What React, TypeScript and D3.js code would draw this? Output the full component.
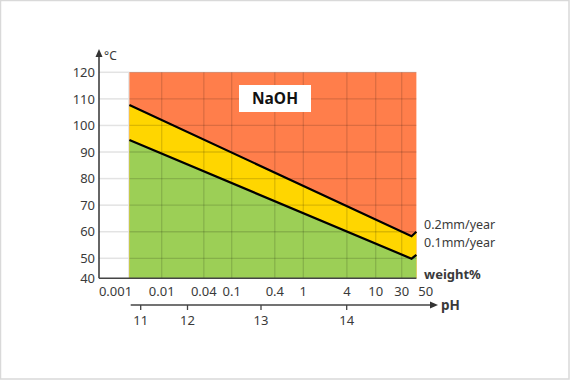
import React from "react";
import * as d3 from "d3";

// weight% tick labels on the concentration axis
const weightTicks: number[] = [0.001, 0.01, 0.04, 0.1, 0.4, 1, 4, 10, 30, 50];
const weightGrid: number[] = [0.01, 0.04, 0.1, 0.4, 1, 4, 10, 30];
// pH ticks
const phTicks: number[] = [11, 12, 13, 14];
// temperature ticks
const tempTicks: number[] = [40, 50, 60, 70, 80, 90, 100, 110, 120];
const tempGrid: number[] = [50, 60, 70, 80, 90, 100, 110, 120];

// plot extent in weight%
const plotMinWeight = 0.002;
const plotMaxWeight = 41;

// iso-corrosion lines (weight%, °C)
const line02Weight: number[] = [0.002, 37, 41];
const line02Temp: number[] = [107.7, 58.3, 60];
const line01Weight: number[] = [0.002, 37, 41];
const line01Temp: number[] = [94.5, 49.8, 51.3];

const lineLabels: string[] = ["0.2mm/year", "0.1mm/year"];

const W = 570;
const H = 380;

const FONT = "'Noto Sans', 'Noto Sans CJK JP', sans-serif";
const TXT = "#3a3a3a";

export default function App() {
  const x = d3
    .scaleLog()
    .domain([0.001, 0.01, 0.1, 1, 10, 30, 50])
    .range([115.5, 161.7, 231.7, 303.3, 375.7, 401.7, 425.7]);
  const y = d3.scaleLinear().domain([40, 50, 120]).range([278.3, 258.3, 72.3]);
  const xp = d3.scaleLinear().domain([11, 12, 13, 14]).range([140.7, 187.5, 261, 346.7]);

  const x0 = x(plotMinWeight);
  const x1 = x(plotMaxWeight);
  const yTop = y(120);
  const yBot = y(40);
  const axisX = 99;

  const pts02 = line02Weight.map((w, i) => [w, line02Temp[i]] as [number, number]);
  const pts01 = line01Weight.map((w, i) => [w, line01Temp[i]] as [number, number]);

  const area = d3
    .area<[number, number]>()
    .x((d) => x(d[0]))
    .y0(yBot)
    .y1((d) => y(d[1]));
  const line = d3
    .line<[number, number]>()
    .x((d) => x(d[0]))
    .y((d) => y(d[1]));

  const pHy = 305;

  return (
    <svg
      width={W}
      height={H}
      style={{ position: "absolute", left: 0, top: 0, fontFamily: FONT }}
    >
      <rect x={0.5} y={0.5} width={W - 1.5} height={H - 1.5} fill="#fff" stroke="#d9d9d9" strokeWidth={1.5} />

      {/* light grid in white region */}
      {tempGrid.map((t) => (
        <line key={"lg" + t} x1={axisX} x2={x0} y1={y(t)} y2={y(t)} stroke="#e3e3e3" strokeWidth={1.5} />
      ))}
      <line x1={x0 - 0.5} x2={x0 - 0.5} y1={yTop} y2={yBot} stroke="#e3e3e3" strokeWidth={1.5} />

      {/* regions */}
      <rect x={x0} y={yTop} width={x1 - x0} height={yBot - yTop} fill="#FF7E4B" />
      <path d={area(pts02) || ""} fill="#FFD600" />
      <path d={area(pts01) || ""} fill="#9CCF56" />

      {/* grid over regions */}
      {tempGrid.map((t) => (
        <line key={"g" + t} x1={x0} x2={x1} y1={y(t)} y2={y(t)} stroke="#000" strokeOpacity={0.14} strokeWidth={1.3} />
      ))}
      {weightGrid.map((w) => (
        <line key={"v" + w} x1={x(w)} x2={x(w)} y1={yTop} y2={yBot} stroke="#000" strokeOpacity={0.14} strokeWidth={1.3} />
      ))}

      {/* lines */}
      <path d={line(pts02) || ""} fill="none" stroke="#000" strokeWidth={2.2} strokeLinejoin="miter" />
      <path d={line(pts01) || ""} fill="none" stroke="#000" strokeWidth={2.2} strokeLinejoin="miter" />

      {/* NaOH box */}
      <rect x={239} y={85} width={72} height={27} fill="#fff" />
      <text x={275} y={104} textAnchor="middle" fontSize={15.5} fontWeight="bold" fill="#111">
        NaOH
      </text>

      {/* y axis */}
      <line x1={axisX} x2={axisX} y1={yBot} y2={56} stroke="#333" strokeWidth={1.5} />
      <path d={`M${axisX},49 L${axisX - 3.5},57 L${axisX + 3.5},57 Z`} fill="#333" />
      <text x={104} y={60} fontSize={12} fill={TXT}>
        °C
      </text>
      {tempTicks.map((t) => (
        <text key={"yt" + t} x={95} y={y(t)} dy="0.36em" textAnchor="end" fontSize={13} fill={TXT}>
          {t}
        </text>
      ))}

      {/* x axis */}
      <line x1={axisX} x2={x1} y1={yBot} y2={yBot} stroke="#444" strokeWidth={1.5} />
      {weightTicks.map((w) => (
        <text key={"xt" + w} x={x(w)} y={yBot + 18} textAnchor="middle" fontSize={13} fill={TXT}>
          {w}
        </text>
      ))}

      {/* right labels */}
      <text x={424} y={y(line02Temp[2]) - 7} dy="0.36em" fontSize={12.5} fill={TXT}>
        {lineLabels[0]}
      </text>
      <text x={424} y={y(line01Temp[2]) - 12.5} dy="0.36em" fontSize={12.5} fill={TXT}>
        {lineLabels[1]}
      </text>
      <text x={424} y={yBot - 4} dy="0.36em" fontSize={13} fontWeight="bold" fill={TXT}>
        weight%
      </text>

      {/* pH axis */}
      <line x1={130.7} x2={432} y1={pHy} y2={pHy} stroke="#444" strokeWidth={1.3} />
      <path d={`M438,${pHy} L430,${pHy - 3.5} L430,${pHy + 3.5} Z`} fill="#333" />
      <text x={441} y={pHy} dy="0.36em" fontSize={13.5} fontWeight="bold" fill={TXT}>
        pH
      </text>
      {phTicks.map((p) => (
        <g key={"p" + p}>
          <line x1={xp(p)} x2={xp(p)} y1={pHy} y2={pHy + 5} stroke="#444" strokeWidth={1.3} />
          <text x={xp(p)} y={pHy + 20} textAnchor="middle" fontSize={13} fill={TXT}>
            {p}
          </text>
        </g>
      ))}
    </svg>
  );
}
